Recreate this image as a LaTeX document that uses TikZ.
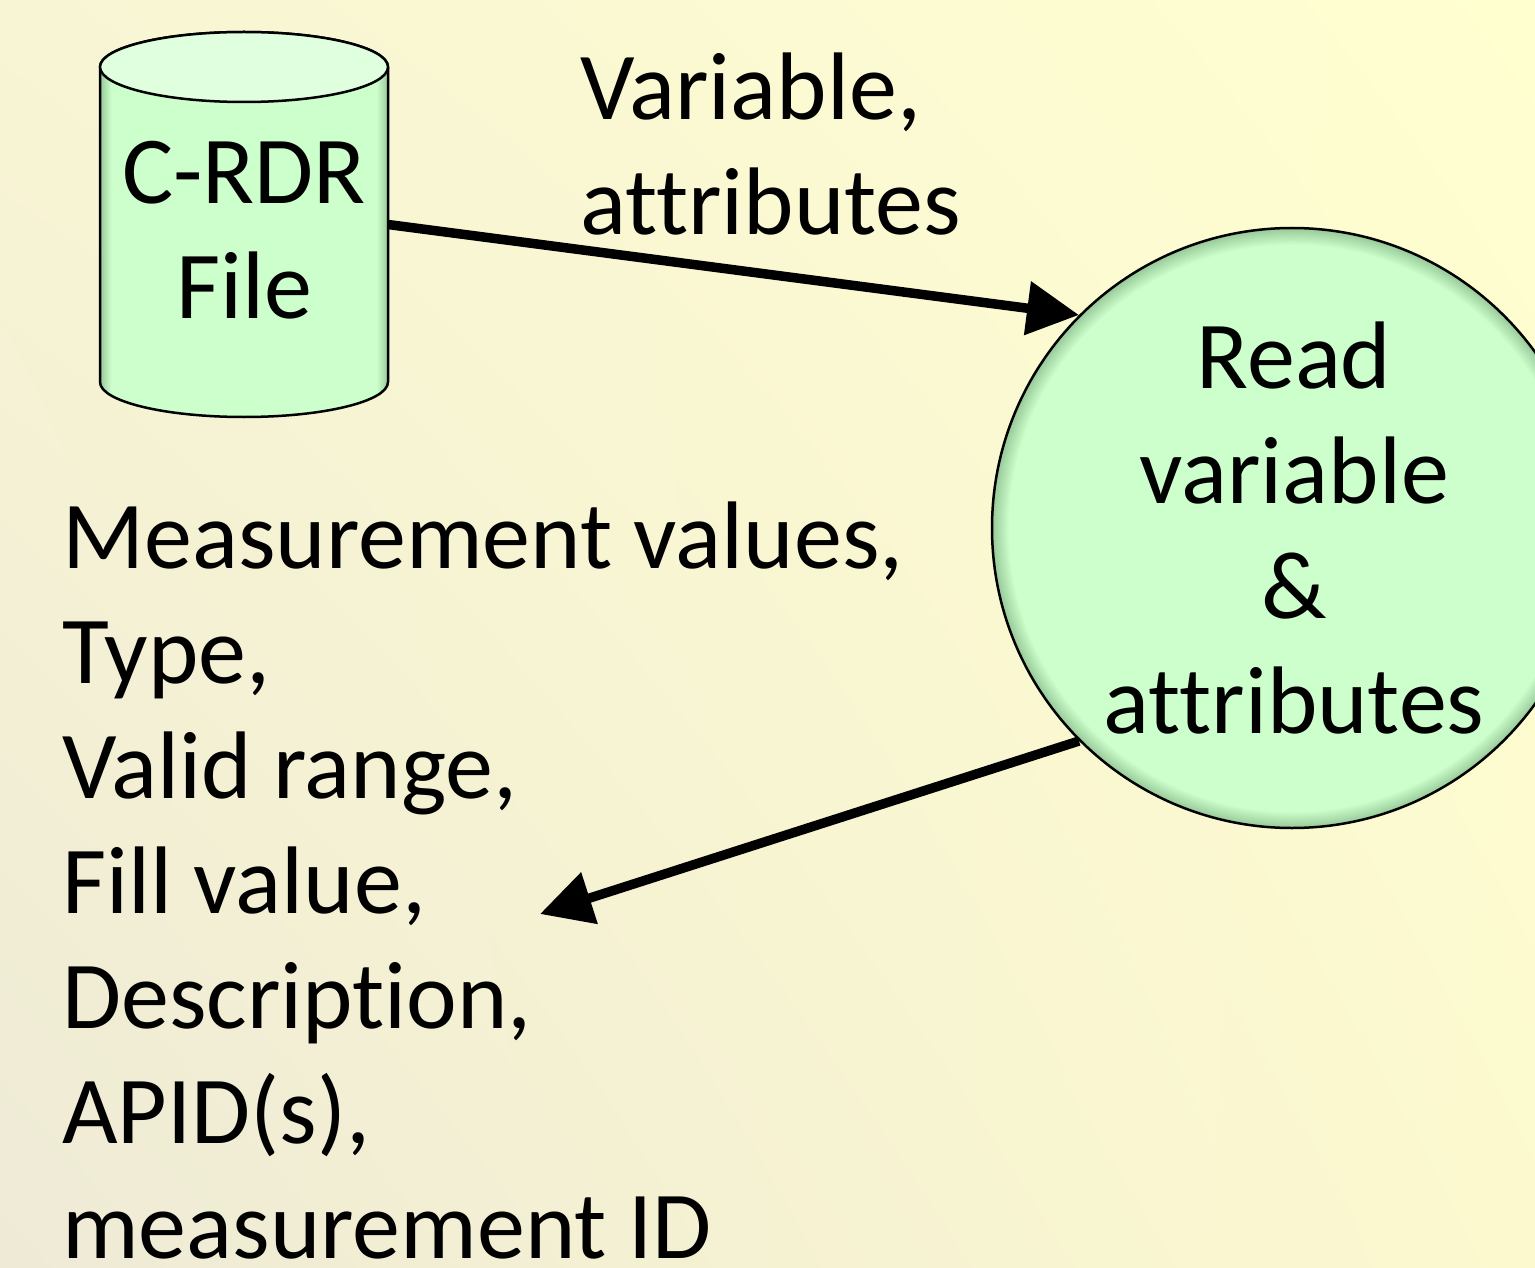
\documentclass[tikz,border=0pt]{standalone}
\usepackage{fontspec}
\setmainfont{Carlito}[Ligatures=NoCommon]
\usetikzlibrary{arrows.meta,shadings}
\definecolor{bgUL}{HTML}{F8F5D4}
\definecolor{bgUR}{HTML}{FFFFD0}
\definecolor{bgLL}{HTML}{EEEAD6}
\definecolor{bgLR}{HTML}{FCF9CF}
\definecolor{gfill}{HTML}{CCFFCC}
\definecolor{gedge}{HTML}{98C898}
\definecolor{gtop}{HTML}{DFFFDF}
\pgfdeclareradialshading{circshade}{\pgfpoint{0bp}{0bp}}{color(0bp)=(gfill); color(23.6bp)=(gfill); color(25bp)=(gedge); color(50bp)=(gedge)}
\pgfdeclarehorizontalshading{cylshade}{100bp}{color(0bp)=(gedge); color(25bp)=(gedge); color(27bp)=(gfill); color(73bp)=(gfill); color(75bp)=(gedge); color(100bp)=(gedge)}
\tikzset{
  bigtext/.style={font=\fontsize{96}{115}\selectfont, inner sep=0pt, text=black},
  flow/.style={line width=9.5pt, -{Triangle[length=52pt,width=52pt]}},
  outline/.style={draw=black, line width=2.5pt},
}
\begin{document}
\begin{tikzpicture}[x=1pt,y=-1pt]
\useasboundingbox (0,0) rectangle (1535,1268);
\clip (0,0) rectangle (1535,1268);
\shade[upper left=bgUL, upper right=bgUR, lower left=bgLL, lower right=bgLR] (0,0) rectangle (1535,1268);
% cylinder
\path[outline, shading=cylshade] (100,67) -- (100,382) arc[start angle=180, end angle=0, x radius=144, y radius=35] -- (388,67) arc[start angle=0, end angle=-180, x radius=144, y radius=35] -- cycle;
\draw[outline, fill=gtop] (244,67) ellipse [x radius=144, y radius=35];
\node[minimum width=288pt, minimum height=315pt, inner sep=0pt, outer sep=0pt] (cyl) at (244,224.5) {};
\node[bigtext, align=center, anchor=base] (cyltext) at (244,318) {C-RDR\\File};
% process circle
\node[circle, outline, shading=circshade, minimum size=600pt, inner sep=0pt] (circ) at (1292,528) {};
\node[bigtext, align=center, anchor=base] (circtext) at (1294,733) {Read\\variable\\\&\\attributes};
% labels
\node[bigtext, align=left, anchor=base west] (lbl1) at (580,235) {Variable,\\attributes};
\node[bigtext, align=left, anchor=base west] (lbl2) at (62,1258) {Measurement values,\\Type,\\Valid range,\\Fill value,\\Description,\\APID(s),\\measurement ID};
\coordinate (tip2) at (540,914);
% connectors
\draw[flow] (cyl.east) -- (circ.135);
\draw[flow] (circ.225) -- (tip2);
\end{tikzpicture}
\end{document}
